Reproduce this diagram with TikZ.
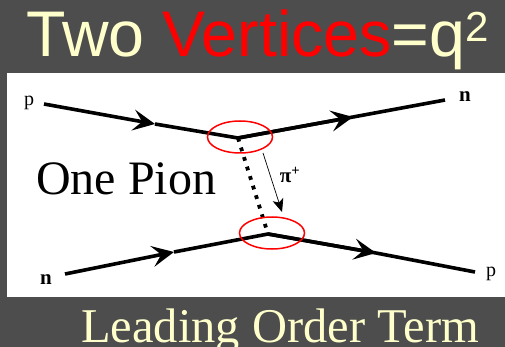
\documentclass[tikz,border=0pt]{standalone}
\usepackage{xcolor}
\usepackage{fontspec}
\setmainfont{Liberation Serif}
\setsansfont{Liberation Sans}
\usepackage{tikz}
\usetikzlibrary{arrows.meta,positioning,shapes.geometric}
\definecolor{SlideGrey}{HTML}{4D4D4D}
\definecolor{SlideCream}{HTML}{FFFFCC}

\begin{document}
\begin{tikzpicture}[
  x=1pt, y=-1pt,
  fermion/.style={black, line width=3.6pt},
  fermionin/.style={fermion, -{Stealth[length=22pt, width=21pt, inset=9pt]}},
  pion/.style={black, line width=3.8pt, dash pattern=on 3.8pt off 6.2pt},
  ring/.style={draw=red, line width=1.5pt, ellipse, minimum width=65pt, minimum height=32pt, inner sep=0pt},
  flow/.style={black, line width=0.7pt, -{Stealth[length=13pt, width=11pt, inset=3pt]}},
  lbl/.style={inner sep=0pt, font=\fontsize{21}{21}\selectfont\bfseries}
]
  \useasboundingbox (0,0) rectangle (505,347);
  \fill[SlideGrey] (0,0) rectangle (505,347);
  \fill[white] (7,73) rectangle (505,297);

  % titles
  \node[anchor=base west, inner sep=0pt, text=SlideCream, font=\fontsize{64.5}{64.5}\selectfont\sffamily] (title) at (26,57)
    {Two \textcolor{red}{Vertices}=q\raisebox{15pt}{\fontsize{42}{42}\selectfont 2}};
  \node[anchor=base west, inner sep=0pt, text=SlideCream, font=\fontsize{48.5}{48.5}\selectfont] (term) at (81,342) {Leading Order Term};
  \node[anchor=base west, inner sep=0pt, font=\fontsize{48}{48}\selectfont] (one) at (36,194) {One Pion};

  % vertices and line ends
  \coordinate (v1) at (238,138);
  \coordinate (v2) at (268,234);
  \coordinate (a1) at (44,104);
  \coordinate (a2) at (155,124);
  \coordinate (b1) at (445,100);
  \coordinate (b2) at (353,117);
  \coordinate (c1) at (65,274);
  \coordinate (c2) at (174,252);
  \coordinate (d1) at (475,272);
  \coordinate (d2) at (376,253);
  \coordinate (f1) at (263,153);
  \coordinate (f2) at (282,212);

  \node[lbl, font=\fontsize{20}{20}\selectfont] (p1) at (29,103) {p};
  \node[lbl] (n1) at (465,97) {n};
  \node[lbl] (n2) at (46,280) {n};
  \node[lbl, font=\fontsize{20}{20}\selectfont] (p2) at (491,274) {p};
  \node[lbl] (pi) at (290,175) {π\textsuperscript{+}};

  \draw[fermion] (a2) -- (v1) -- (b2);
  \draw[fermion] (c2) -- (v2) -- (d2);
  \draw[fermionin] (a1) -- (a2);
  \draw[fermionin] (v1) -- (b2);
  \draw[fermion] (b2) -- (b1);
  \draw[fermionin] (c1) -- (c2);
  \draw[fermionin] (v2) -- (d2);
  \draw[fermion] (d2) -- (d1);
  \draw[pion] (v1) -- (v2);
  \draw[flow] (f1) -- (f2);

  \node[ring] (r1) at (240,137) {};
  \node[ring] (r2) at (272,233) {};
\end{tikzpicture}
\end{document}
